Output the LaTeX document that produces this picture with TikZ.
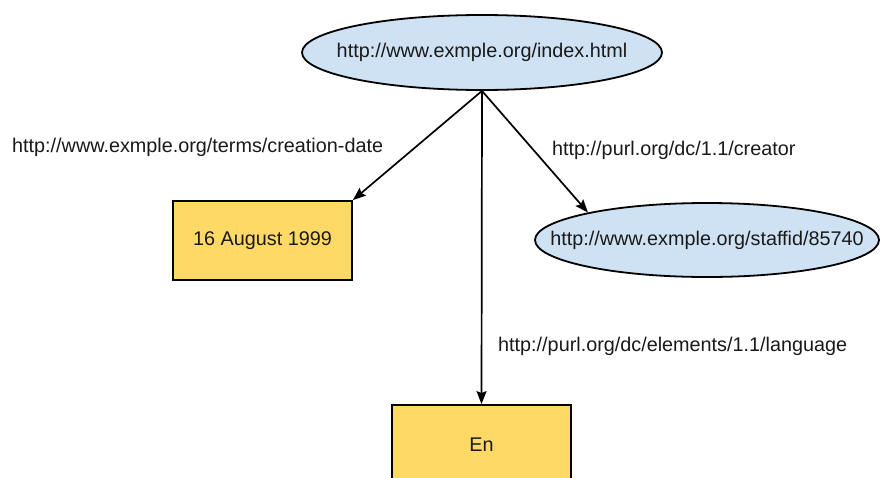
\documentclass[tikz,border=0pt]{standalone}
\usepackage{fontspec}
\setmainfont{Liberation Sans}
\usetikzlibrary{shapes.geometric,arrows.meta}
\definecolor{resfill}{HTML}{CFE2F3}
\definecolor{litfill}{HTML}{FFD966}
\definecolor{ink}{HTML}{1A1A1A}
\tikzset{
  every node/.style={font=\fontsize{19.8}{23}\selectfont, text=ink},
  resource/.style={ellipse, draw=black, line width=1.8pt, fill=resfill, inner sep=0pt},
  literal/.style={rectangle, draw=black, line width=1.8pt, fill=litfill, inner sep=0pt,
                  minimum width=179pt, minimum height=79pt},
  prop/.style={inner sep=0pt, anchor=west},
  link/.style={draw=black, line width=1.7pt, -{Stealth[length=13pt,width=10pt,inset=2pt]}}
}
% zero-width text so the ellipse takes its size from the minimum dimensions
\newcommand{\ovaltext}[1]{\makebox[0pt]{#1}}
\begin{document}
\begin{tikzpicture}[x=1pt,y=-1pt]
  \useasboundingbox (0,0) rectangle (881,477);
  \clip (0,0) rectangle (881,477);
  \fill[white] (0,0) rectangle (881,477);

  % subject and objects
  \node[resource, minimum width=360pt, minimum height=75pt] (page) at (482,52.5)
       {\ovaltext{http://www.exmple.org/index.html}};
  \node[literal] (date) at (262.5,240.5) {16 August 1999};
  \node[resource, minimum width=344pt, minimum height=74pt] (staff) at (707,240)
       {\ovaltext{http://www.exmple.org/staffid/85740}};
  \node[literal] (lang) at (481.5,444.5) {En};

  % predicate labels
  \node[prop] (pdate) at (12,147) {http://www.exmple.org/terms/creation-date};
  \node[prop] (pcreator) at (552,150) {http://purl.org/dc/1.1/creator};
  \node[prop] (plang) at (498,346) {http://purl.org/dc/elements/1.1/language};

  % statements
  \draw[link] (page.south) -- (date.north east);
  \draw[link] (page.south) -- (staff.167);
  \draw[link] (page.south) -- (lang.north);
\end{tikzpicture}
\end{document}
